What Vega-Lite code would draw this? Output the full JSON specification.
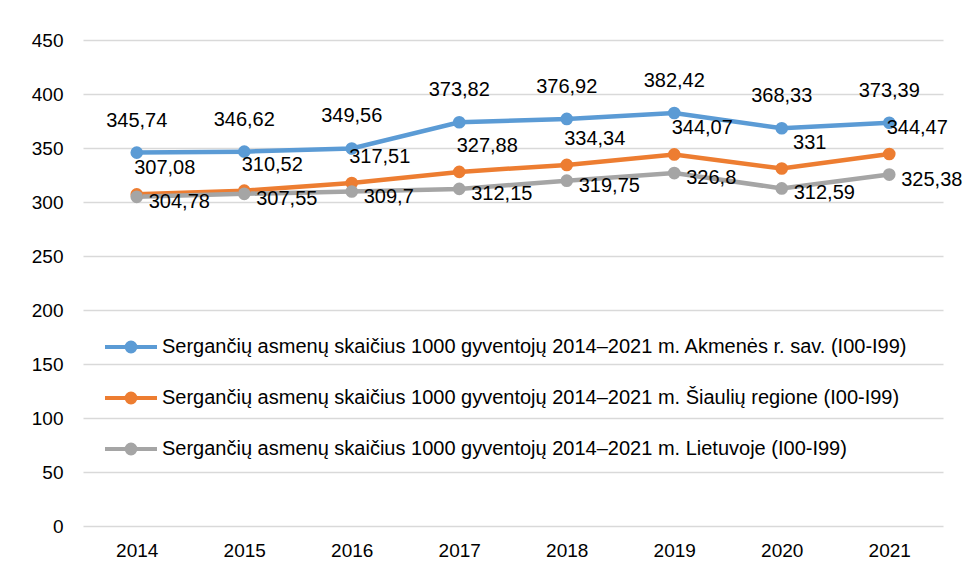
{
  "$schema": "https://vega.github.io/schema/vega-lite/v6.json",
  "width": 860,
  "height": 486,
  "autosize": {"type": "none"},
  "padding": {"left": 83, "top": 40, "right": 20, "bottom": 52},
  "background": "white",
  "config": {
    "view": {"stroke": null},
    "font": "Liberation Sans",
    "axis": {"labelFont": "Liberation Sans", "labelFontSize": 19, "labelColor": "#000000"}
  },
  "data": {
    "values": [
      {"year": "2014", "series": "Sergančių asmenų skaičius 1000 gyventojų 2014–2021 m. Akmenės r. sav. (I00-I99)", "value": 345.74, "label": "345,74"},
      {"year": "2015", "series": "Sergančių asmenų skaičius 1000 gyventojų 2014–2021 m. Akmenės r. sav. (I00-I99)", "value": 346.62, "label": "346,62"},
      {"year": "2016", "series": "Sergančių asmenų skaičius 1000 gyventojų 2014–2021 m. Akmenės r. sav. (I00-I99)", "value": 349.56, "label": "349,56"},
      {"year": "2017", "series": "Sergančių asmenų skaičius 1000 gyventojų 2014–2021 m. Akmenės r. sav. (I00-I99)", "value": 373.82, "label": "373,82"},
      {"year": "2018", "series": "Sergančių asmenų skaičius 1000 gyventojų 2014–2021 m. Akmenės r. sav. (I00-I99)", "value": 376.92, "label": "376,92"},
      {"year": "2019", "series": "Sergančių asmenų skaičius 1000 gyventojų 2014–2021 m. Akmenės r. sav. (I00-I99)", "value": 382.42, "label": "382,42"},
      {"year": "2020", "series": "Sergančių asmenų skaičius 1000 gyventojų 2014–2021 m. Akmenės r. sav. (I00-I99)", "value": 368.33, "label": "368,33"},
      {"year": "2021", "series": "Sergančių asmenų skaičius 1000 gyventojų 2014–2021 m. Akmenės r. sav. (I00-I99)", "value": 373.39, "label": "373,39"},
      {"year": "2014", "series": "Sergančių asmenų skaičius 1000 gyventojų 2014–2021 m. Šiaulių regione (I00-I99)", "value": 307.08, "label": "307,08"},
      {"year": "2015", "series": "Sergančių asmenų skaičius 1000 gyventojų 2014–2021 m. Šiaulių regione (I00-I99)", "value": 310.52, "label": "310,52"},
      {"year": "2016", "series": "Sergančių asmenų skaičius 1000 gyventojų 2014–2021 m. Šiaulių regione (I00-I99)", "value": 317.51, "label": "317,51"},
      {"year": "2017", "series": "Sergančių asmenų skaičius 1000 gyventojų 2014–2021 m. Šiaulių regione (I00-I99)", "value": 327.88, "label": "327,88"},
      {"year": "2018", "series": "Sergančių asmenų skaičius 1000 gyventojų 2014–2021 m. Šiaulių regione (I00-I99)", "value": 334.34, "label": "334,34"},
      {"year": "2019", "series": "Sergančių asmenų skaičius 1000 gyventojų 2014–2021 m. Šiaulių regione (I00-I99)", "value": 344.07, "label": "344,07"},
      {"year": "2020", "series": "Sergančių asmenų skaičius 1000 gyventojų 2014–2021 m. Šiaulių regione (I00-I99)", "value": 331, "label": "331"},
      {"year": "2021", "series": "Sergančių asmenų skaičius 1000 gyventojų 2014–2021 m. Šiaulių regione (I00-I99)", "value": 344.47, "label": "344,47"},
      {"year": "2014", "series": "Sergančių asmenų skaičius 1000 gyventojų 2014–2021 m. Lietuvoje (I00-I99)", "value": 304.78, "label": "304,78"},
      {"year": "2015", "series": "Sergančių asmenų skaičius 1000 gyventojų 2014–2021 m. Lietuvoje (I00-I99)", "value": 307.55, "label": "307,55"},
      {"year": "2016", "series": "Sergančių asmenų skaičius 1000 gyventojų 2014–2021 m. Lietuvoje (I00-I99)", "value": 309.7, "label": "309,7"},
      {"year": "2017", "series": "Sergančių asmenų skaičius 1000 gyventojų 2014–2021 m. Lietuvoje (I00-I99)", "value": 312.15, "label": "312,15"},
      {"year": "2018", "series": "Sergančių asmenų skaičius 1000 gyventojų 2014–2021 m. Lietuvoje (I00-I99)", "value": 319.75, "label": "319,75"},
      {"year": "2019", "series": "Sergančių asmenų skaičius 1000 gyventojų 2014–2021 m. Lietuvoje (I00-I99)", "value": 326.8, "label": "326,8"},
      {"year": "2020", "series": "Sergančių asmenų skaičius 1000 gyventojų 2014–2021 m. Lietuvoje (I00-I99)", "value": 312.59, "label": "312,59"},
      {"year": "2021", "series": "Sergančių asmenų skaičius 1000 gyventojų 2014–2021 m. Lietuvoje (I00-I99)", "value": 325.38, "label": "325,38"}
    ]
  },
  "encoding": {
    "x": {
      "field": "year", "type": "ordinal",
      "scale": {"type": "point", "padding": 0.5},
      "axis": {"title": null, "labelAngle": 0, "domain": false, "ticks": false, "labelPadding": 15}
    },
    "y": {
      "field": "value", "type": "quantitative",
      "scale": {"domain": [0, 450], "nice": false, "zero": true},
      "axis": {"title": null, "values": [0, 50, 100, 150, 200, 250, 300, 350, 400, 450], "domain": false, "ticks": false, "labelPadding": 20, "grid": true, "gridColor": "#d9d9d9", "gridWidth": 1.5}
    }
  },
  "layer": [
    {
      "mark": {"type": "line", "strokeWidth": 4.5},
      "encoding": {
        "color": {
          "field": "series", "type": "nominal",
          "scale": {
            "domain": [
              "Sergančių asmenų skaičius 1000 gyventojų 2014–2021 m. Akmenės r. sav. (I00-I99)",
              "Sergančių asmenų skaičius 1000 gyventojų 2014–2021 m. Šiaulių regione (I00-I99)",
              "Sergančių asmenų skaičius 1000 gyventojų 2014–2021 m. Lietuvoje (I00-I99)"
            ],
            "range": ["#5B9BD5", "#ED7D31", "#A5A5A5"]
          },
          "legend": {
            "title": null,
            "orient": "none",
            "legendX": 20,
            "legendY": 279,
            "padding": 0,
            "rowPadding": 10,
            "symbolType": "M-1,0H1M-0.17,0A0.17,0.17,0,1,1,0.17,0A0.17,0.17,0,1,1,-0.17,0Z",
            "symbolSize": 2704,
            "symbolStrokeWidth": 4,
            "labelFont": "Liberation Sans",
            "labelFontSize": 20,
            "labelColor": "#000000",
            "labelOffset": 3,
            "labelLimit": 900,
            "encode": {"symbols": {"update": {"fill": {"scale": "color", "field": "value"}}}}
          }
        }
      }
    },
    {
      "mark": {"type": "point", "shape": "circle", "filled": true, "opacity": 1, "size": 160},
      "encoding": {
        "color": {"field": "series", "type": "nominal", "legend": null}
      }
    },
    {
      "transform": [{"filter": "indexof(datum.series, 'Akmenės') >= 0"}],
      "mark": {"type": "text", "fontSize": 20, "font": "Liberation Sans", "color": "#000000", "align": "center", "baseline": "middle", "dy": -32},
      "encoding": {"text": {"field": "label"}}
    },
    {
      "transform": [{"filter": "indexof(datum.series, 'Šiaulių') >= 0"}],
      "mark": {"type": "text", "fontSize": 20, "font": "Liberation Sans", "color": "#000000", "align": "center", "baseline": "middle", "dx": 28, "dy": -26},
      "encoding": {"text": {"field": "label"}}
    },
    {
      "transform": [{"filter": "indexof(datum.series, 'Lietuvoje') >= 0"}],
      "mark": {"type": "text", "fontSize": 20, "font": "Liberation Sans", "color": "#000000", "align": "left", "baseline": "middle", "dx": 12, "dy": 5},
      "encoding": {"text": {"field": "label"}}
    }
  ]
}
